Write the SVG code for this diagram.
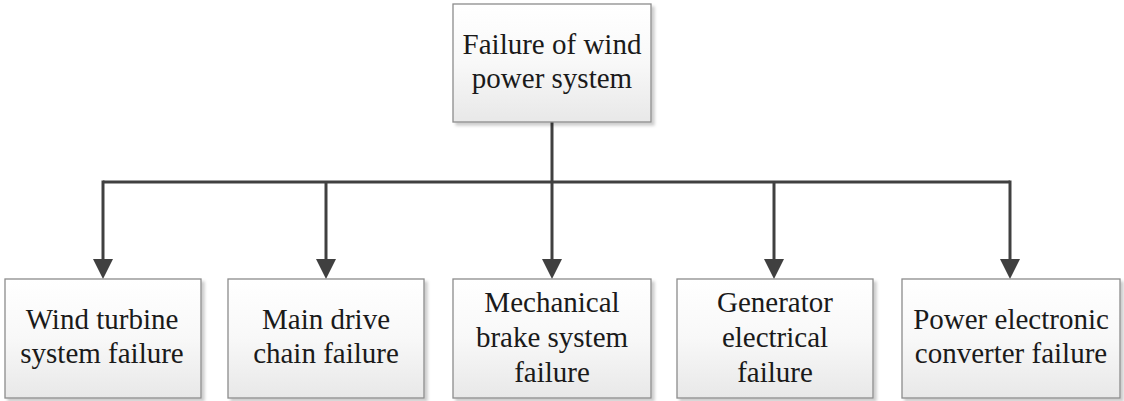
<svg xmlns="http://www.w3.org/2000/svg" width="1124" height="401" viewBox="0 0 1124 401">
<style>
.box{fill:url(#g);stroke:#8c8c8c;stroke-width:1.3;filter:url(#sh)}
.t{font-family:'Liberation Serif','Times New Roman',Tinos,'DejaVu Serif',serif;font-size:29px;fill:#1a1a1a;text-anchor:middle}
.c{stroke:#404040;stroke-width:3;fill:none}
</style>
<defs>
<linearGradient id="g" x1="0" y1="0" x2="0" y2="1">
<stop offset="0" stop-color="#ffffff"/>
<stop offset="0.5" stop-color="#f8f8f8"/>
<stop offset="1" stop-color="#e8e8e8"/>
</linearGradient>
<filter id="sh" x="-10%" y="-10%" width="130%" height="130%">
<feDropShadow dx="3" dy="3" stdDeviation="1.5" flood-color="#000" flood-opacity="0.2"/>
</filter>
</defs>
<rect width="1124" height="401" fill="#ffffff"/>
<g id="connectors">
<path class="c" d="M552,122 V182"/>
<path class="c" d="M103,182 H1010"/>
<path class="c" d="M103,180.5 V262"/>
<path class="c" d="M326,182 V262"/>
<path class="c" d="M552,182 V262"/>
<path class="c" d="M774,182 V262"/>
<path class="c" d="M1010,180.5 V262"/>
<path d="M93,259 L113,259 L103,279 Z" fill="#404040"/>
<path d="M316,259 L336,259 L326,279 Z" fill="#404040"/>
<path d="M542,259 L562,259 L552,279 Z" fill="#404040"/>
<path d="M764,259 L784,259 L774,279 Z" fill="#404040"/>
<path d="M1000,259 L1020,259 L1010,279 Z" fill="#404040"/>
</g>
<g id="root">
<rect class="box" x="453" y="4" width="198" height="118"/>
<text class="t" font-family="Liberation Serif, serif" x="552" y="54">Failure of wind</text>
<text class="t" x="552" y="88">power system</text>
</g>
<g id="n1">
<rect class="box" x="5" y="279" width="196" height="119"/>
<text class="t" x="102" y="329">Wind turbine</text>
<text class="t" x="102" y="363">system failure</text>
</g>
<g id="n2">
<rect class="box" x="228" y="279" width="196" height="119"/>
<text class="t" x="326" y="329">Main drive</text>
<text class="t" x="326" y="363">chain failure</text>
</g>
<g id="n3">
<rect class="box" x="453" y="279" width="198" height="119"/>
<text class="t" x="552" y="312">Mechanical</text>
<text class="t" x="552" y="347">brake system</text>
<text class="t" x="552" y="382">failure</text>
</g>
<g id="n4">
<rect class="box" x="677" y="279" width="196" height="119"/>
<text class="t" x="775" y="312">Generator</text>
<text class="t" x="775" y="347">electrical</text>
<text class="t" x="775" y="382">failure</text>
</g>
<g id="n5">
<rect class="box" x="902" y="279" width="218" height="119"/>
<text class="t" x="1011" y="329">Power electronic</text>
<text class="t" x="1011" y="363">converter failure</text>
</g>
</svg>
